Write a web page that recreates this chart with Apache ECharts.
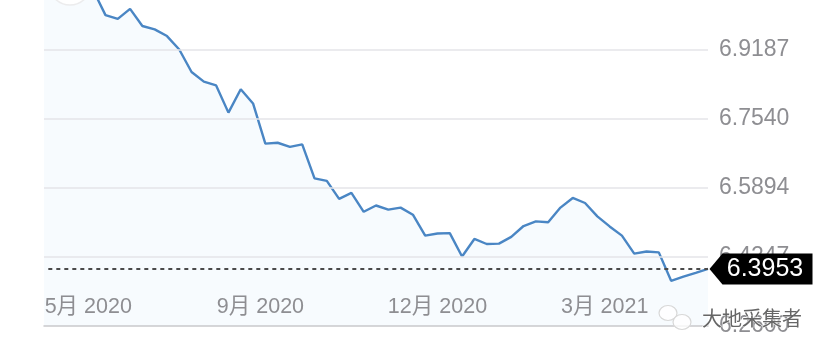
<!DOCTYPE html>
<html><head><meta charset="utf-8">
<style>html,body{margin:0;padding:0;background:#fff}#c{width:828px;height:355px}</style>
<script src="https://cdn.jsdelivr.net/npm/echarts@6/dist/echarts.min.js"></script>
</head><body><div id="c"></div>
<script>
const rates = [7.11,7.13,7.10,7.09,7.062,7.002,6.993,7.017,6.976,6.968,6.952,6.920,6.866,6.843,6.834,6.769,6.825,6.791,6.695,6.697,6.687,6.693,6.612,6.606,6.563,6.577,6.532,6.547,6.537,6.542,6.525,6.475,6.480,6.481,6.425,6.467,6.455,6.456,6.472,6.498,6.509,6.507,6.542,6.565,6.553,6.521,6.497,6.475,6.432,6.437,6.435,6.367,6.377,6.386,6.3953];
const yTicks = [6.26,6.4247,6.5894,6.7540,6.9187];
const xTickPositions = [3.6,17.6,32,45.6];
const xTickLabels = ['5月 2020','9月 2020','12月 2020','3月 2021'];
const lastValue = '6.3953';
const watermark = '大地采集者';
const grey = '#8e8e92';
const font = '"Liberation Sans","Noto Sans CJK SC",sans-serif';
const chart = echarts.init(document.getElementById('c'));
chart.setOption({
  animation:false,
  grid:{left:44,right:120,top:0,bottom:29},
  xAxis:{type:'value',min:0,max:54,z:5,
    axisLine:{show:true,onZero:false,lineStyle:{color:'#c9c9cb',width:1.5}},
    axisTick:{show:false},splitLine:{show:false},
    axisLabel:{inside:true,margin:8,color:grey,fontFamily:font,fontSize:21.5,
      customValues:xTickPositions,
      formatter:v=>xTickLabels[xTickPositions.indexOf(v)]||''}
  },
  yAxis:{type:'value',position:'right',min:6.259,max:7.0382,
    axisLine:{show:false},axisTick:{show:false},
    splitLine:{show:false},
    axisLabel:{margin:11,color:grey,fontFamily:font,fontSize:23,
      customValues:yTicks,formatter:v=>v.toFixed(4)}
  },
  series:[
   {type:'line',data:rates.map((v,i)=>[i,v]),symbol:'none',silent:true,z:3,
    lineStyle:{color:'#4a86c4',width:2.4},
    areaStyle:{color:'#f7fbfe',origin:'start',opacity:1},
    markLine:{silent:true,symbol:'none',z:4,precision:4,label:{show:false},
      data:yTicks.slice(1).map(v=>({yAxis:v,lineStyle:{color:'#e5e5e8',width:1.5,type:'solid'}}))
        .concat([[{coord:[0.35,+lastValue],lineStyle:{color:'#4a4a4a',width:2,type:[4,4]}},{coord:[54,+lastValue]}]])},
    markPoint:{silent:true,z:6,
      data:[{coord:[54,+lastValue],symbol:'path://M0 15.5 L13 0 L103 0 L103 31 L13 31 Z',
        symbolSize:[103,31],symbolKeepAspect:false,symbolOffset:[53,0],
        itemStyle:{color:'#000'},
        label:{show:true,position:'inside',offset:[4,0],formatter:lastValue,color:'#fff',fontFamily:font,fontSize:25}}]}
   }
  ],
  graphic:[
    {type:'circle',shape:{cx:70,cy:-16,r:21},style:{fill:'#fff',stroke:'#ececed',lineWidth:1.5},z:8},
    {type:'ellipse',shape:{cx:668,cy:313,rx:9,ry:7.5},style:{fill:'rgba(255,255,255,0.8)',stroke:'#d8d8d8',lineWidth:1.2},z:9},
    {type:'ellipse',shape:{cx:682,cy:322,rx:9,ry:7.5},style:{fill:'rgba(255,255,255,0.8)',stroke:'#d8d8d8',lineWidth:1.2},z:9},
    {type:'text',x:702,y:308,z:9,style:{text:watermark,fontFamily:'"Noto Sans CJK SC"',fontSize:20,fill:'#666',stroke:'rgba(255,255,255,0.8)',lineWidth:1}}
  ]
});
</script></body></html>
